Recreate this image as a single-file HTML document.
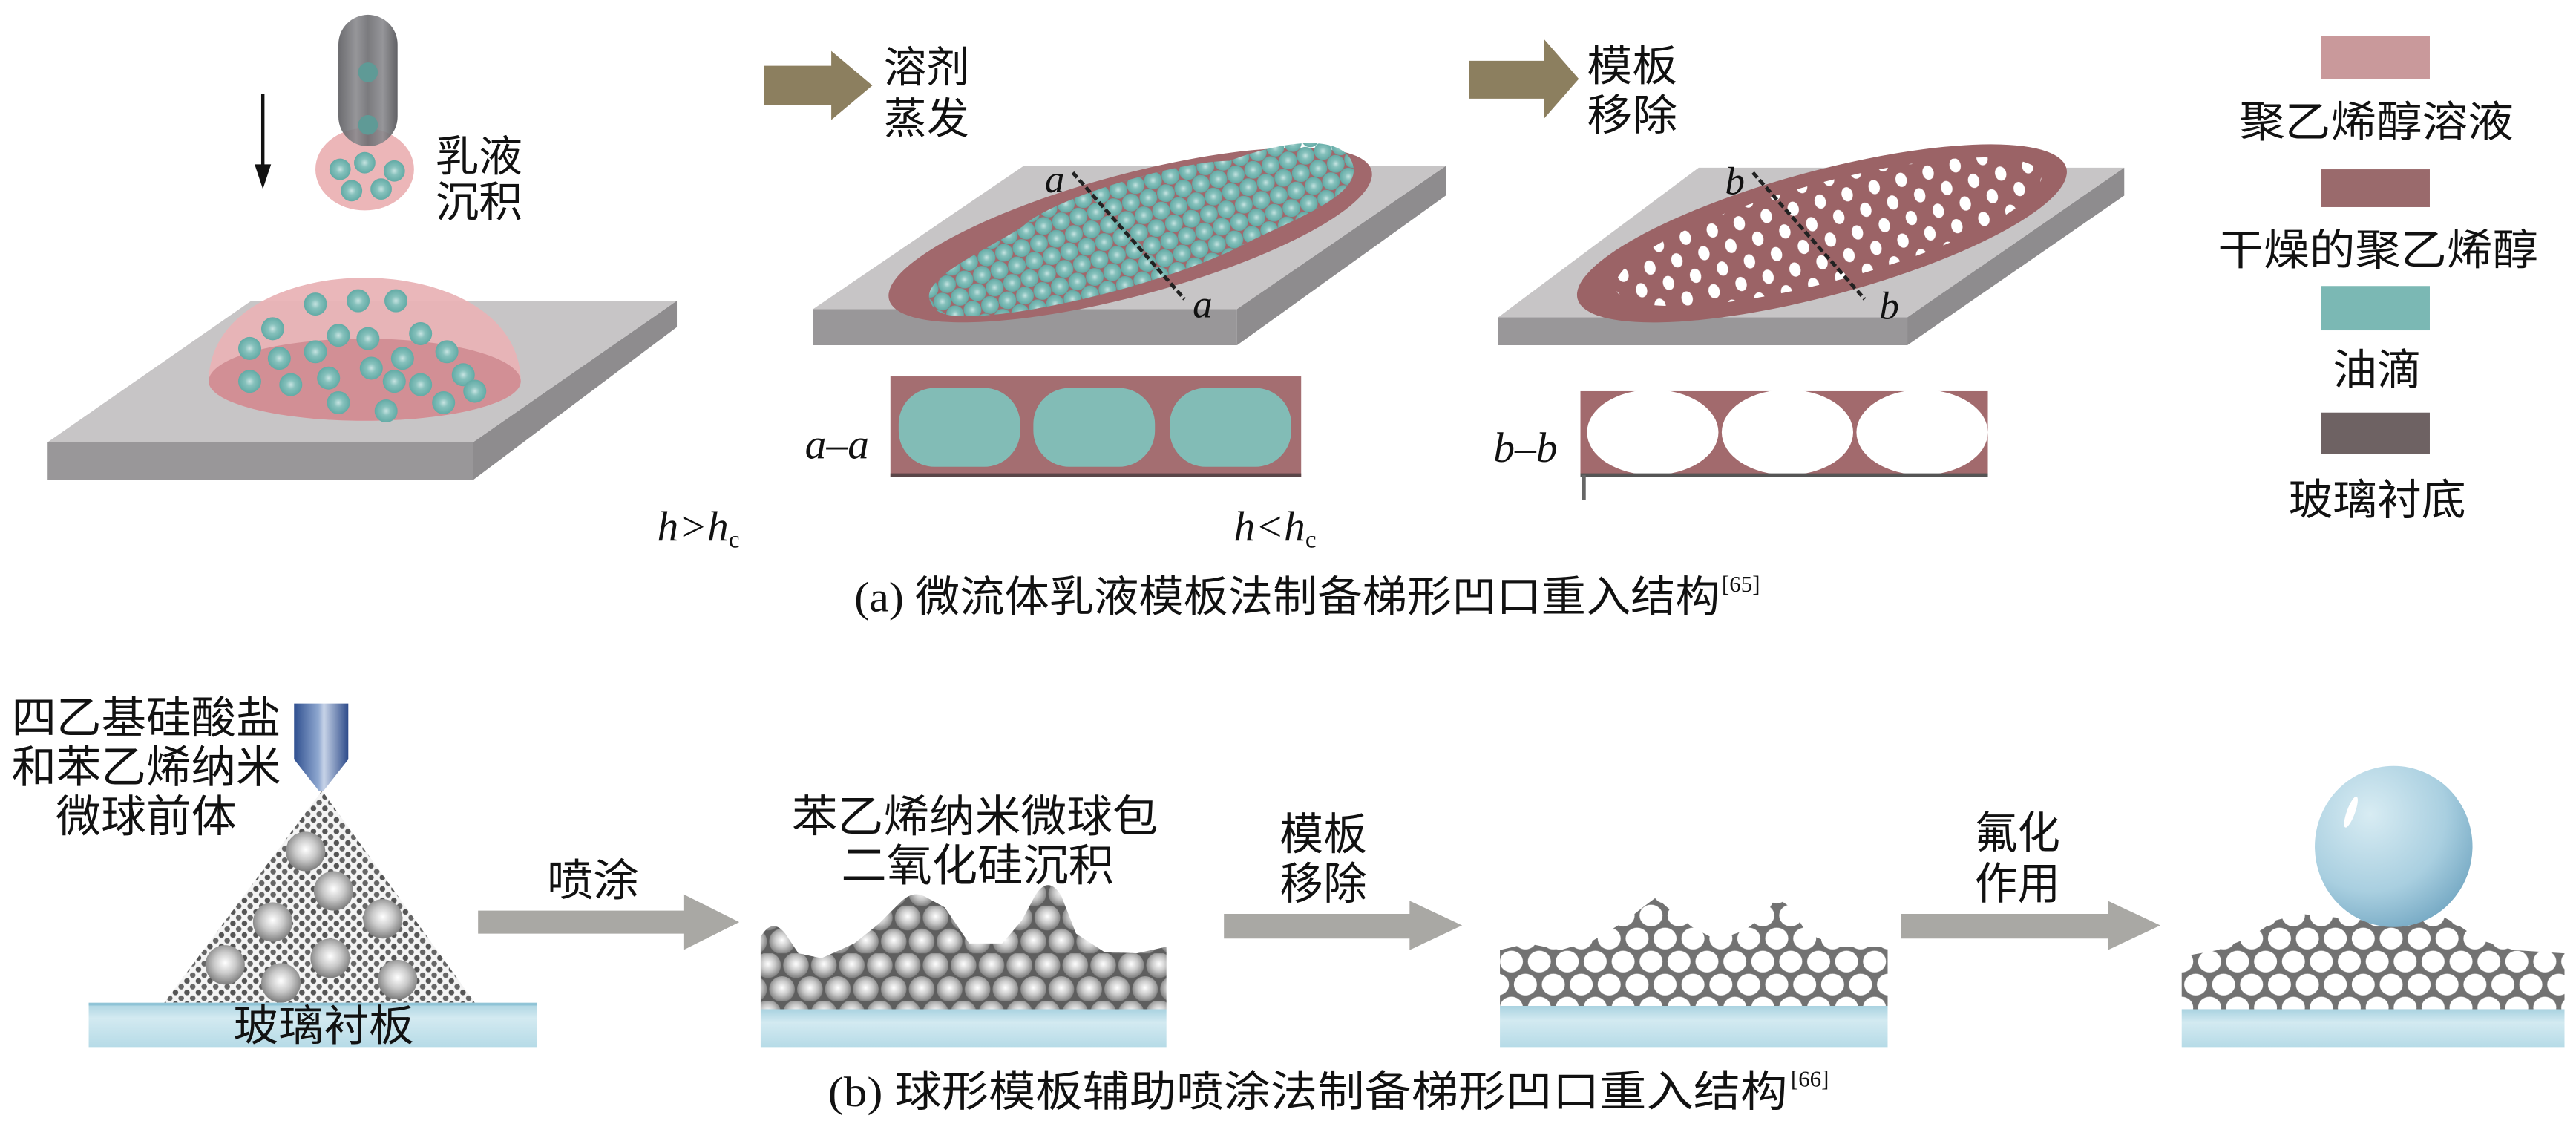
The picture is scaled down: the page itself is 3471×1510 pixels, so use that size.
<!DOCTYPE html>
<html><head><meta charset="utf-8"><style>
html,body{margin:0;padding:0;background:#fff;}
svg{display:block;}
.cj{font-family:"Liberation Serif","Noto Sans CJK SC",sans-serif;fill:#111;}
.it{font-family:"Liberation Serif",serif;font-style:italic;fill:#111;}
</style></head><body>
<svg width="3471" height="1510" viewBox="0 0 1568 682" preserveAspectRatio="none" xmlns="http://www.w3.org/2000/svg">
<defs>
<linearGradient id="tube" x1="0" x2="1" y1="0" y2="0">
<stop offset="0" stop-color="#5c5c60"/><stop offset="0.3" stop-color="#8a8a8e"/><stop offset="0.5" stop-color="#6c6c70"/><stop offset="0.75" stop-color="#8a8a8e"/><stop offset="1" stop-color="#505054"/></linearGradient>
<linearGradient id="noz" x1="0" x2="1"><stop offset="0" stop-color="#2f4f8f"/><stop offset="0.45" stop-color="#8fa8d0"/><stop offset="0.55" stop-color="#c8d4e8"/><stop offset="1" stop-color="#2d4b8a"/></linearGradient>
<linearGradient id="sub" x1="0" y1="0" x2="0" y2="1"><stop offset="0" stop-color="#a9d2e0"/><stop offset="0.35" stop-color="#d3eaf1"/><stop offset="1" stop-color="#b6dbe7"/></linearGradient>
<radialGradient id="sph" cx="0.5" cy="0.45" r="0.55"><stop offset="0" stop-color="#ffffff"/><stop offset="0.5" stop-color="#c9c9c9"/><stop offset="1" stop-color="#7d7d7d"/></radialGradient>
<radialGradient id="drop" cx="0.35" cy="0.3" r="0.8"><stop offset="0" stop-color="#d8ecf3"/><stop offset="0.6" stop-color="#a9cfe0"/><stop offset="1" stop-color="#6fa4c0"/></radialGradient>
<radialGradient id="tc" cx="0.5" cy="0.5" r="0.5"><stop offset="0" stop-color="#c7e4e2"/><stop offset="0.4" stop-color="#86c1bc"/><stop offset="1" stop-color="#62aaa5"/></radialGradient>
<pattern id="hex" width="11" height="19" patternUnits="userSpaceOnUse">
<circle cx="5.5" cy="0" r="5.4" fill="url(#tc)"/><circle cx="0" cy="9.5" r="5.4" fill="url(#tc)"/><circle cx="11" cy="9.5" r="5.4" fill="url(#tc)"/><circle cx="5.5" cy="19" r="5.4" fill="url(#tc)"/></pattern>
<pattern id="holes" width="17" height="24" patternUnits="userSpaceOnUse">
<ellipse cx="4" cy="5" rx="3.4" ry="4.4" fill="#fff"/><ellipse cx="12.5" cy="17" rx="3.4" ry="4.4" fill="#fff"/></pattern>
<pattern id="spray" width="7" height="7" patternUnits="userSpaceOnUse">
<rect width="7" height="7" fill="#f4f4f4"/><circle cx="1.8" cy="1.8" r="1.7" fill="#555"/><circle cx="5.3" cy="5.3" r="1.7" fill="#666"/></pattern>
<pattern id="balls" width="17" height="29" patternUnits="userSpaceOnUse">
<rect width="17" height="29" fill="#5e5e5e"/><circle cx="8.5" cy="7.25" r="7.8" fill="url(#sph)"/><circle cx="0" cy="21.75" r="7.8" fill="url(#sph)"/><circle cx="17" cy="21.75" r="7.8" fill="url(#sph)"/></pattern>
<pattern id="pores" width="17" height="28" patternUnits="userSpaceOnUse" x="2" y="4">
<rect width="17" height="28" fill="#727272"/><ellipse cx="8.5" cy="7" rx="7" ry="6.6" fill="#fff"/><ellipse cx="0" cy="21" rx="7" ry="6.6" fill="#fff"/><ellipse cx="17" cy="21" rx="7" ry="6.6" fill="#fff"/></pattern>
<clipPath id="cone"><polygon points="196,481 100,610 289,610"/></clipPath>
</defs>

<!-- ============ (a) ============ -->
<ellipse cx="222" cy="103" rx="30" ry="25" fill="#ecb6b8"/>
<g fill="url(#tc)"><circle cx="207" cy="103" r="6.5"/><circle cx="222" cy="99" r="6.5"/><circle cx="240" cy="104" r="6.5"/><circle cx="214" cy="116" r="6.5"/><circle cx="232" cy="115" r="6.5"/></g>
<rect x="206" y="9" width="36" height="80" rx="18" fill="url(#tube)" opacity="0.9"/>
<circle cx="224" cy="44" r="6" fill="#5f9a96"/><circle cx="224" cy="76" r="6" fill="#5f9a96"/>
<line x1="160" y1="57" x2="160" y2="104" stroke="#111" stroke-width="2"/>
<polygon points="155,100 165,100 160,115" fill="#111"/>
<text class="cj" x="265" y="104" font-size="26" textLength="53" lengthAdjust="spacingAndGlyphs">乳液</text>
<text class="cj" x="265" y="132" font-size="26" textLength="53" lengthAdjust="spacingAndGlyphs">沉积</text>

<polygon points="29,269 288,269 288,292 29,292" fill="#999799"/>
<polygon points="288,269 412,183 412,199 288,292" fill="#8e8c8e"/>
<polygon points="29,269 288,269 412,183 153,183" fill="#c7c5c6"/>
<path d="M127,232 C128,148 316,148 317,232 A95,24 0 0 1 127,232 Z" fill="#e9b3b6" opacity="0.95"/>
<path d="M127,232 A95,26 0 0 1 317,232 A95,24 0 0 1 127,232 Z" fill="#d28f95"/>
<g fill="url(#tc)">
<circle cx="192" cy="185" r="7"/><circle cx="218" cy="183" r="7"/><circle cx="241" cy="183" r="7"/>
<circle cx="166" cy="200" r="7"/><circle cx="206" cy="204" r="7"/><circle cx="224" cy="206" r="7"/><circle cx="256" cy="203" r="7"/>
<circle cx="152" cy="212" r="7"/><circle cx="170" cy="218" r="7"/><circle cx="192" cy="214" r="7"/><circle cx="226" cy="224" r="7"/><circle cx="245" cy="218" r="7"/><circle cx="272" cy="214" r="7"/>
<circle cx="152" cy="232" r="7"/><circle cx="177" cy="234" r="7"/><circle cx="200" cy="230" r="7"/><circle cx="240" cy="232" r="7"/><circle cx="256" cy="234" r="7"/><circle cx="282" cy="228" r="7"/><circle cx="289" cy="238" r="7"/>
<circle cx="206" cy="245" r="7"/><circle cx="235" cy="250" r="7"/><circle cx="270" cy="245" r="7"/>
</g>
<text class="it" x="400" y="329" font-size="26">h&gt;h<tspan font-size="15" dy="4" font-style="normal">c</tspan></text>

<polygon points="465,40 506,40 506,31 531,52 506,73 506,64 465,64" fill="#8c7f5f"/>
<text class="cj" x="538" y="50" font-size="26" textLength="52" lengthAdjust="spacingAndGlyphs">溶剂</text>
<text class="cj" x="538" y="81" font-size="26" textLength="52" lengthAdjust="spacingAndGlyphs">蒸发</text>

<polygon points="495,188 753,188 753,210 495,210" fill="#999799"/>
<polygon points="753,188 880,101 880,119 753,210" fill="#8e8c8e"/>
<polygon points="495,188 753,188 880,101 623,101" fill="#c7c5c6"/>
<g transform="translate(688,143) rotate(-15)">
<ellipse cx="0" cy="0" rx="152" ry="37" fill="#a1686c"/>
<clipPath id="tb"><path d="M-128,8 C-132,-8 -85,-14 -62,-22 C-40,-34 40,-36 70,-28 C112,-32 142,-24 142,-6 C142,12 104,16 72,22 C22,34 -60,32 -100,24 C-120,20 -127,16 -128,8 Z"/></clipPath>
<rect x="-150" y="-45" width="300" height="90" fill="url(#hex)" clip-path="url(#tb)"/>
</g>
<line x1="653" y1="105" x2="721" y2="182" stroke="#222" stroke-width="2.2" stroke-dasharray="4,2"/>
<text class="it" x="636" y="117" font-size="24">a</text>
<text class="it" x="726" y="193" font-size="24">a</text>
<rect x="542" y="229" width="250" height="61" fill="#a46e71"/>
<g fill="#82bcb6"><rect x="547" y="236" width="74" height="48" rx="22"/><rect x="629" y="236" width="74" height="48" rx="22"/><rect x="712" y="236" width="74" height="48" rx="22"/></g>
<line x1="542" y1="289" x2="792" y2="289" stroke="#5a4648" stroke-width="2"/>
<text class="it" x="490" y="279" font-size="26">a–a</text>
<text class="it" x="751" y="329" font-size="26">h&lt;h<tspan font-size="15" dy="4" font-style="normal">c</tspan></text>

<polygon points="894,37 940,37 940,24 961,48 940,72 940,60 894,60" fill="#8c7f5f"/>
<text class="cj" x="966" y="49" font-size="26" textLength="55" lengthAdjust="spacingAndGlyphs">模板</text>
<text class="cj" x="966" y="79" font-size="26" textLength="55" lengthAdjust="spacingAndGlyphs">移除</text>

<polygon points="912,193 1161,193 1161,210 912,210" fill="#999799"/>
<polygon points="1161,193 1293,102 1293,119 1161,210" fill="#8e8c8e"/>
<polygon points="912,193 1161,193 1293,102 1034,102" fill="#c7c5c6"/>
<g transform="translate(1109,142) rotate(-15)">
<ellipse cx="0" cy="0" rx="154" ry="38" fill="#9b6366"/>
<clipPath id="hb"><ellipse cx="4" cy="0" rx="134" ry="30"/></clipPath>
<rect x="-150" y="-45" width="300" height="90" fill="url(#holes)" clip-path="url(#hb)"/>
</g>
<line x1="1067" y1="105" x2="1135" y2="182" stroke="#222" stroke-width="2.2" stroke-dasharray="4,2"/>
<text class="it" x="1050" y="118" font-size="24">b</text>
<text class="it" x="1144" y="194" font-size="24">b</text>
<rect x="962" y="238" width="248" height="51" fill="#a26a6d"/>
<g fill="#fff"><ellipse cx="1006" cy="263" rx="40" ry="26"/><ellipse cx="1088" cy="263" rx="40" ry="26"/><ellipse cx="1170" cy="263" rx="40" ry="26"/></g>
<line x1="962" y1="289" x2="1210" y2="289" stroke="#555" stroke-width="2"/>
<line x1="964" y1="289" x2="964" y2="304" stroke="#666" stroke-width="2.5"/>
<text class="it" x="909" y="281" font-size="26">b–b</text>

<rect x="1413" y="22" width="66" height="26" fill="#c9999b"/>
<text class="cj" x="1363" y="83" font-size="26" textLength="167" lengthAdjust="spacingAndGlyphs">聚乙烯醇溶液</text>
<rect x="1413" y="103" width="66" height="23" fill="#9a6a6c"/>
<text class="cj" x="1350" y="161" font-size="26" textLength="195" lengthAdjust="spacingAndGlyphs">干燥的聚乙烯醇</text>
<rect x="1413" y="174" width="66" height="27" fill="#7bb8b4"/>
<text class="cj" x="1420" y="234" font-size="26" textLength="54" lengthAdjust="spacingAndGlyphs">油滴</text>
<rect x="1413" y="251" width="66" height="25" fill="#6e6263"/>
<text class="cj" x="1393" y="313" font-size="26" textLength="108" lengthAdjust="spacingAndGlyphs">玻璃衬底</text>

<text class="cj" x="520" y="372" font-size="26" textLength="527" lengthAdjust="spacingAndGlyphs">(a) 微流体乳液模板法制备梯形凹口重入结构</text>
<text class="cj" x="1048" y="360" font-size="14">[65]</text>

<!-- ============ (b) ============ -->
<text class="cj" x="7" y="446" font-size="27" textLength="164" lengthAdjust="spacingAndGlyphs">四乙基硅酸盐</text>
<text class="cj" x="7" y="476" font-size="27" textLength="164" lengthAdjust="spacingAndGlyphs">和苯乙烯纳米</text>
<text class="cj" x="34" y="506" font-size="27" textLength="110" lengthAdjust="spacingAndGlyphs">微球前体</text>
<polygon points="179,428 212,428 212,462 197,481 194,481 179,462" fill="url(#noz)"/>
<polygon points="196,481 100,610 289,610" fill="url(#spray)"/>
<g clip-path="url(#cone)" fill="url(#sph)">
<circle cx="186" cy="518" r="12"/><circle cx="203" cy="542" r="12"/><circle cx="166" cy="561" r="12"/><circle cx="233" cy="559" r="12"/>
<circle cx="201" cy="583" r="12"/><circle cx="137" cy="587" r="12"/><circle cx="242" cy="596" r="12"/><circle cx="171" cy="598" r="12"/></g>
<rect x="54" y="610" width="273" height="27" fill="url(#sub)"/>
<line x1="54" y1="611" x2="327" y2="611" stroke="#8fc3d6" stroke-width="1.5"/>
<text class="cj" x="142" y="633" font-size="26" textLength="110" lengthAdjust="spacingAndGlyphs">玻璃衬板</text>

<polygon points="291,554 416,554 416,544 450,561 416,578 416,568 291,568" fill="#a9a8a4"/>
<text class="cj" x="333" y="545" font-size="27" textLength="56" lengthAdjust="spacingAndGlyphs">喷涂</text>
<text class="cj" x="482" y="506" font-size="27" textLength="223" lengthAdjust="spacingAndGlyphs">苯乙烯纳米微球包</text>
<text class="cj" x="512" y="536" font-size="27" textLength="166" lengthAdjust="spacingAndGlyphs">二氧化硅沉积</text>
<path d="M463,614 L463,570 Q470,558 478,568 L486,580 L500,583 L520,574 L535,562 L548,549 Q556,541 564,546 L575,552 L590,574 L610,574 L622,560 L630,545 Q638,532 646,545 L655,568 L672,579 L692,580 L710,576 L710,614 Z" fill="url(#balls)"/>
<rect x="463" y="614" width="247" height="23" fill="url(#sub)"/>

<polygon points="745,556 858,556 858,548 890,563 858,578 858,571 745,571" fill="#a9a8a4"/>
<text class="cj" x="779" y="517" font-size="27" textLength="53" lengthAdjust="spacingAndGlyphs">模板</text>
<text class="cj" x="779" y="547" font-size="27" textLength="53" lengthAdjust="spacingAndGlyphs">移除</text>
<path d="M913,612 L913,578 L930,574 L950,578 L970,572 L990,560 L1000,552 L1008,546 L1016,553 L1030,564 L1045,572 L1062,566 L1075,556 L1081,546 L1090,552 L1100,568 L1120,576 L1149,576 L1149,612 Z" fill="url(#pores)"/>
<rect x="913" y="612" width="236" height="25" fill="url(#sub)"/>

<polygon points="1157,556 1283,556 1283,548 1315,563 1283,578 1283,571 1157,571" fill="#a9a8a4"/>
<text class="cj" x="1202" y="516" font-size="27" textLength="52" lengthAdjust="spacingAndGlyphs">氟化</text>
<text class="cj" x="1202" y="547" font-size="27" textLength="52" lengthAdjust="spacingAndGlyphs">作用</text>
<path d="M1328,614 L1328,582 L1350,578 L1370,570 L1385,560 L1400,556 L1420,558 L1440,560 L1460,556 L1480,554 L1495,562 L1510,572 L1530,578 L1561,580 L1561,614 Z" fill="url(#pores)"/>
<rect x="1328" y="614" width="233" height="23" fill="url(#sub)"/>
<ellipse cx="1457" cy="515" rx="48" ry="49" fill="url(#drop)"/>
<ellipse cx="1431" cy="494" rx="2.5" ry="10" transform="rotate(20 1431 494)" fill="#fff"/>

<text class="cj" x="504" y="673" font-size="26" textLength="584" lengthAdjust="spacingAndGlyphs">(b) 球形模板辅助喷涂法制备梯形凹口重入结构</text>
<text class="cj" x="1090" y="661" font-size="14">[66]</text>
</svg>
</body></html>
